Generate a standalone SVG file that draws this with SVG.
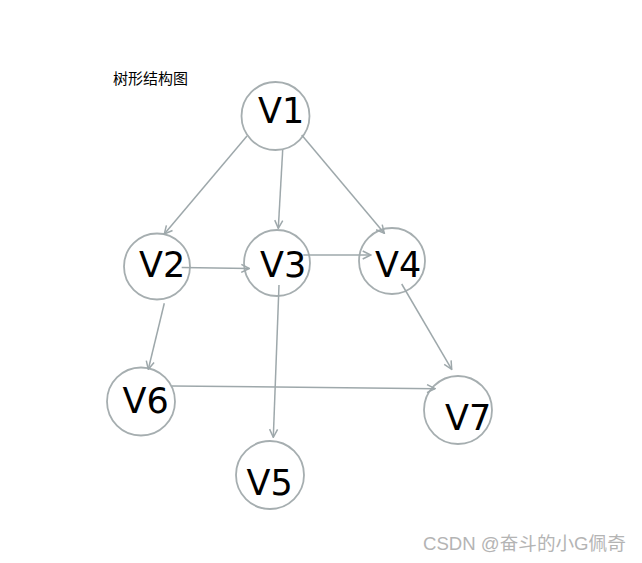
<svg xmlns="http://www.w3.org/2000/svg" width="642" height="563" viewBox="0 0 642 563">
<style>
.n{fill:#fff;stroke:#a6aeb0;stroke-width:1.8}
.t{font-family:"DejaVu Sans",sans-serif;font-size:35px;fill:#000}
.e{stroke:#9ea8ab;stroke-width:1.5;fill:none;marker-end:url(#a)}
</style>
<defs>
<marker id="a" viewBox="0 0 10 10" refX="9" refY="5" markerWidth="10" markerHeight="10" markerUnits="userSpaceOnUse" orient="auto">
<path d="M1,1 L9,5 L1,9" fill="none" stroke="#9ea8ab" stroke-width="1.5"/>
</marker>
</defs>
<rect width="642" height="563" fill="#fff"/>
<text x="113" y="84" font-family="'Noto Sans CJK SC',sans-serif" font-size="15" fill="#000">树形结构图</text>
<g id="V1"><circle class="n" cx="275.5" cy="116" r="34"/><text class="t" x="258" y="123">V1</text></g>
<g id="V2"><circle class="n" cx="157" cy="266.5" r="33"/><text class="t" x="139" y="277">V2</text></g>
<g id="V3"><circle class="n" cx="277" cy="263" r="33"/><text class="t" x="260" y="277">V3</text></g>
<g id="V4"><circle class="n" cx="392" cy="261" r="33"/><text class="t" x="375" y="277">V4</text></g>
<g id="V6"><circle class="n" cx="141" cy="401.5" r="34"/><text class="t" x="122.5" y="413">V6</text></g>
<g id="V5"><circle class="n" cx="270" cy="475" r="34"/><text class="t" x="246.5" y="495">V5</text></g>
<g id="V7"><circle class="n" cx="458" cy="410" r="34"/><text class="t" x="445" y="430">V7</text></g>
<g id="edges">
<line class="e" x1="247" y1="136" x2="164.3" y2="234"/>
<line class="e" x1="282.7" y1="150" x2="278.3" y2="228.3"/>
<line class="e" x1="301.7" y1="135" x2="384.3" y2="233.3"/>
<line class="e" x1="181.7" y1="267.5" x2="249.3" y2="268.5"/>
<line class="e" x1="303.3" y1="255" x2="370.7" y2="255"/>
<line class="e" x1="164.3" y1="303.3" x2="148.3" y2="369.3"/>
<line class="e" x1="279" y1="285" x2="273.3" y2="437.3"/>
<line class="e" x1="401.7" y1="284" x2="451.7" y2="369.3"/>
<line class="e" x1="171.7" y1="386" x2="435" y2="388.7"/>
</g>
<text x="423" y="550" font-family="'Liberation Sans','Noto Sans CJK SC',sans-serif" font-size="18.6" fill="#b4b4b4">CSDN @奋斗的小G佩奇</text>
</svg>
